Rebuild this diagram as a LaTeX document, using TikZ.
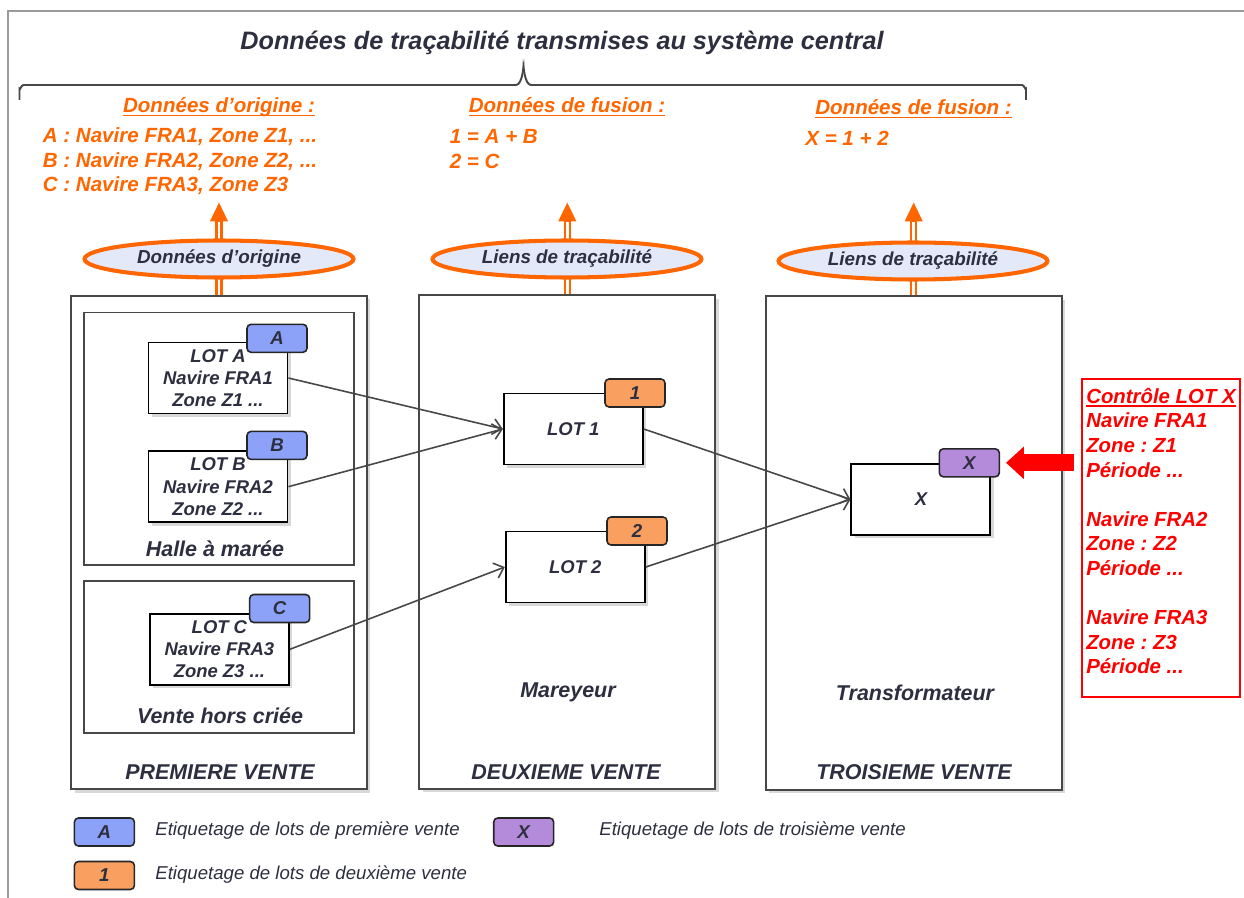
\documentclass[tikz,border=0pt]{standalone}
\usepackage{fontspec}
\setmainfont{Liberation Sans}
\frenchspacing
\usepackage{tikz}
\usetikzlibrary{shapes.geometric,arrows.meta,shadows}

\definecolor{encre}{HTML}{2D2F40}
\definecolor{orangeT}{HTML}{FF6600}
\definecolor{fondbulle}{HTML}{E4E9FA}
\definecolor{bleuA}{HTML}{8CA2F8}
\definecolor{orangeE}{HTML}{F9A060}
\definecolor{violetX}{HTML}{B48ADA}
\definecolor{trait}{HTML}{474747}
\definecolor{cadre}{HTML}{9A9A9A}

\newcommand{\taille}[2]{\fontsize{#1}{#2}\selectfont\bfseries\itshape}
\newsavebox{\boitesoul}
\newcommand{\souligne}[1]{\sbox{\boitesoul}{#1}\rlap{\rule[-2.2pt]{\wd\boitesoul}{1pt}}\usebox{\boitesoul}}

\tikzset{
  ombre/.style={drop shadow={shadow xshift=0.07cm,shadow yshift=-0.07cm,opacity=0.3}},
  vente/.style={draw=trait, line width=1pt, fill=white, minimum width=5.92cm, minimum height=9.87cm, ombre},
  zone/.style={draw=trait, line width=0.9pt, minimum width=5.39cm},
  lot/.style={draw=black, line width=1.1pt, fill=white, minimum width=2.78cm, minimum height=1.42cm,
    inner sep=0pt, align=center, text=encre, font=\taille{10.5pt}{12.7pt}, ombre},
  etiq/.style={draw=black!85, line width=0.9pt, rounded corners=2.3pt, minimum width=1.2cm,
    minimum height=0.56cm, inner sep=0pt, text=encre, font=\taille{10.6pt}{11pt}},
  bulle/.style={ellipse, draw=orangeT, line width=2.3pt, fill=fondbulle, minimum width=5.38cm,
    minimum height=0.74cm, inner sep=0pt, text=encre, font=\taille{10.7pt}{12pt}},
  remonte/.style={draw=orangeT, line width=4pt, -{Triangle[length=11pt,width=9.4pt]},
    postaction={draw=white, line width=1.7pt, shorten >=11.5pt, -}},
  lien/.style={draw=trait, line width=0.9pt, -{Straight Barb[length=5pt,width=9pt]}},
  donnees/.style={text=orangeT, font=\taille{11.7pt}{13.9pt}, inner sep=0pt, align=left},
  libelle/.style={text=encre, font=\taille{12.2pt}{14pt}, inner sep=0pt},
  legende/.style={anchor=west, inner sep=0pt, text=encre, font=\fontsize{10.6pt}{12pt}\selectfont\itshape},
  accol/.style={draw=trait, line width=1.1pt},
  controle/.style={draw=red, line width=1.1pt, align=left, text=red, font=\taille{11.6pt}{14pt},
    minimum width=3.16cm, minimum height=6.36cm, inner xsep=1pt}
}

\begin{document}
\begin{tikzpicture}[x=0.02cm, y=-0.02cm]

    \useasboundingbox (0, 0) rectangle (1244, 898);
    \draw[cadre, line width=0.8pt] (8, 898) -- (8, 11) -- (1244, 11);

    % titre et accolade
    \node[text=encre, font=\taille{14.35pt}{16pt}] (titre) at (562, 43) {Données de traçabilité transmises au système central};
    \draw[accol] (19.5, 100) -- (19.5, 89) to[out=-90, in=180] (23.5, 85) -- (516, 85) to[out=0, in=90] (523.5, 69);
    \draw[accol] (523.5, 69) to[out=90, in=180] (531, 85) -- (1022, 85) to[out=0, in=-90] (1026, 89) -- (1026, 100);

    \node[donnees] (hdr1) at (219, 107) {\souligne{Données d’origine :}};
    \node[donnees] (hdr2) at (567, 107) {\souligne{Données de fusion :}};
    \node[donnees] (hdr3) at (913.5, 109) {\souligne{Données de fusion :}};

    \node[donnees, anchor=west] (orig) at (42.5, 161.2) {A : Navire FRA1, Zone Z1, ...\\B : Navire FRA2, Zone Z2, ...\\C : Navire FRA3, Zone Z3};
    \node[donnees, anchor=west] (fus1) at (449.5, 149.2) {1 = A + B\\2 = C};
    \node[donnees, anchor=west] (fus2) at (805, 138) {X = 1 + 2};

    % les trois ventes
    \node[vente] (v1) at (219, 542.5) {};
    \node[vente] (v2) at (567.3, 542) {};
    \node[vente] (v3) at (913.7, 543) {};

    \node[zone, minimum height=5.05cm] (halle) at (219, 438.7) {};
    \node[zone, minimum height=3.04cm] (hors) at (219, 657) {};

    \coordinate (up1) at (219, 202);
    \coordinate (up2) at (567.3, 202);
    \coordinate (up3) at (913.7, 202);
    \draw[remonte] (v1.north) -- (up1);
    \draw[remonte] (v2.north) -- (up2);
    \draw[remonte] (v3.north) -- (up3);

    \node[bulle] (b1) at (219, 259) {Données d’origine};
    \node[bulle] (b2) at (567, 259) {Liens de traçabilité};
    \node[bulle] (b3) at (913, 261) {Liens de traçabilité};

    \node[libelle] (lhalle) at (215, 549) {Halle à marée};
    \node[libelle] (lhors) at (220, 716) {Vente hors criée};
    \node[libelle] (lmar) at (568, 692) {Mareyeur};
    \node[libelle] (ltra) at (915, 693) {Transformateur};
    \node[libelle] (l1) at (220, 772) {PREMIERE VENTE};
    \node[libelle] (l2) at (566, 772) {DEUXIEME VENTE};
    \node[libelle] (l3) at (914, 772) {TROISIEME VENTE};

    % lots
    \node[lot] (lotA) at (218, 378) {LOT A\\Navire FRA1\\Zone Z1 ...};
    \node[lot] (lotB) at (218, 486.7) {LOT B\\Navire FRA2\\Zone Z2 ...};
    \node[lot] (lotC) at (219.4, 649.3) {LOT C\\Navire FRA3\\Zone Z3 ...};
    \node[lot] (lot1) at (573.3, 429) {LOT 1};
    \node[lot] (lot2) at (575.3, 567) {LOT 2};
    \node[lot] (lotX) at (920.9, 499.4) {X};

    \node[etiq, fill=bleuA] (tagA) at (277, 338.3) {A};
    \node[etiq, fill=bleuA] (tagB) at (277, 445.4) {B};
    \node[etiq, fill=bleuA] (tagC) at (279.7, 608.5) {C};
    \node[etiq, fill=orangeE] (tag1) at (635, 393) {1};
    \node[etiq, fill=orangeE] (tag2) at (637, 531) {2};
    \node[etiq, fill=violetX] (tagX) at (969.3, 462.8) {X};

    \draw[lien] (lotA.east) -- (lot1.west);
    \draw[lien] (lotB.east) -- (lot1.west);
    \draw[lien] (lotC.east) -- (lot2.west);
    \draw[lien] (lot1.east) -- (lotX.west);
    \draw[lien] (lot2.east) -- (lotX.west);

    % controle
    \node[controle] (ctrl) at (1161, 538) {\souligne{Contrôle LOT X}\\Navire FRA1\\Zone : Z1\\Période ...\\[14pt]Navire FRA2\\Zone : Z2\\Période ...\\[14pt]Navire FRA3\\Zone : Z3\\Période ...\\[-6pt]\mbox{}};
    \coordinate (redtail) at (1074, 462.8);
    \draw[red, line width=9.6pt, shorten >=3.4pt, -{Triangle[length=10.2pt,width=18pt]}] (redtail) -- (tagX.east);

    % legende
    \node[etiq, fill=bleuA] (legA) at (104.4, 832) {A};
    \node[legende] (legAtxt) at (155, 831) {Etiquetage de lots de première vente};
    \node[etiq, fill=orangeE] (leg1) at (104.4, 875.5) {1};
    \node[legende] (leg1txt) at (155, 875) {Etiquetage de lots de deuxième vente};
    \node[etiq, fill=violetX] (legX) at (523.7, 832) {X};
    \node[legende] (legXtxt) at (599, 831) {Etiquetage de lots de troisième vente};

\end{tikzpicture}
\end{document}
